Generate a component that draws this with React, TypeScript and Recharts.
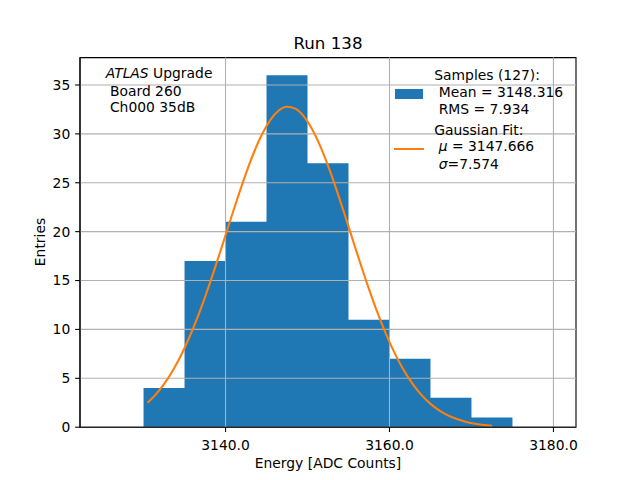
import {
  ComposedChart,
  Area,
  Line,
  XAxis,
  YAxis,
  ReferenceLine,
  ReferenceArea,
  Legend,
} from "recharts";

// histogram: left bin edges + last right edge, one count per bin
const binEdges = [3125, 3130, 3135, 3140, 3145, 3150, 3155, 3160, 3165, 3170, 3175, 3180];
const binCounts = [0, 4, 17, 21, 36, 27, 11, 7, 3, 1, 0];

// gaussian fit curve
const fitX = [
  3130.5, 3131.5, 3132.5, 3133.5, 3134.5, 3135.5, 3136.5, 3137.5, 3138.5, 3139.5,
  3140.5, 3141.5, 3142.5, 3143.5, 3144.5, 3145.5, 3146.5, 3147.5, 3148.5, 3149.5,
  3150.5, 3151.5, 3152.5, 3153.5, 3154.5, 3155.5, 3156.5, 3157.5, 3158.5, 3159.5,
  3160.5, 3161.5, 3162.5, 3163.5, 3164.5, 3165.5, 3166.5, 3167.5, 3168.5, 3169.5,
  3170.5, 3171.5, 3172.5,
];
const fitY = [
  2.51, 3.36, 4.41, 5.7, 7.23, 9.02, 11.05, 13.31, 15.75, 18.32,
  20.94, 23.52, 25.97, 28.17, 30.03, 31.46, 32.39, 32.77, 32.58, 31.84,
  30.57, 28.85, 26.75, 24.38, 21.83, 19.21, 16.61, 14.12, 11.79, 9.68,
  7.81, 6.19, 4.82, 3.69, 2.78, 2.05, 1.49, 1.07, 0.75, 0.51,
  0.35, 0.23, 0.15,
];

const xTicks = [3140, 3160, 3180];
const yTicks = [0, 5, 10, 15, 20, 25, 30, 35];

const title = "Run 138";
const xLabel = "Energy [ADC Counts]";
const yLabel = "Entries";
const sampleLines = ["Samples (127):", " Mean = 3148.316", " RMS = 7.934"];
const fitLines = ["Gaussian Fit:", " \u03bc = 3147.666", " \u03c3=7.574"];
const boardLines = [" Board 260", " Ch000 35dB"];

const BLUE = "#1f77b4";
const ORANGE = "#ff7f0e";
const GRID = "#b0b0b0";
const FONT = "'DejaVu Sans', sans-serif";
const FS = 13.89; // 10pt at 100 dpi
const TICK = 4.86; // 3.5pt
const X_DOMAIN: [number, number] = [3122.25, 3182.75];
const Y_DOMAIN: [number, number] = [0, 37.8];

const histData = binEdges.map((x, i) => ({ x, y: i < binCounts.length ? binCounts[i] : 0 }));
const fitData = fitX.map((x, i) => ({ x, y: fitY[i] }));

// italicise greek letters like matplotlib mathtext
const renderMath = (s: string) =>
  s.split(/([\u03bc\u03c3])/).map((part, i) =>
    /[\u03bc\u03c3]/.test(part) ? <i key={i}>{part}</i> : <span key={i}>{part}</span>
  );

const lineStyle = (left: number, top: number): React.CSSProperties => ({
  position: "absolute",
  left,
  top,
  fontSize: FS,
  lineHeight: "17px",
  whiteSpace: "pre",
  color: "#000",
});

const LegendBox = () => {
  const sampleTops = [67.4, 84.0, 101.0];
  const fitTops = [121.7, 138.4, 156.0];
  return (
    <div style={{ position: "relative", width: 640, height: 480, fontFamily: FONT }}>
      <div style={{ position: "absolute", left: 395, top: 89.3, width: 28, height: 9.7, background: BLUE }} />
      <div style={{ position: "absolute", left: 394, top: 147.7, width: 30, height: 2.1, background: ORANGE }} />
      {sampleLines.map((t, i) => (
        <div key={"s" + i} style={lineStyle(434.3, sampleTops[i])}>
          {t}
        </div>
      ))}
      {fitLines.map((t, i) => (
        <div key={"f" + i} style={lineStyle(434.3, fitTops[i])}>
          {renderMath(t)}
        </div>
      ))}
    </div>
  );
};

export default function App() {
  return (
    <div
      style={{
        position: "absolute",
        left: 0,
        top: 0,
        width: 640,
        height: 480,
        background: "#fff",
        fontFamily: FONT,
      }}
    >
      <ComposedChart
        width={640}
        height={480}
        margin={{ top: 57.6, right: 64, bottom: 0, left: 0 }}
        style={{ fontFamily: FONT }}
      >
        <XAxis
          type="number"
          dataKey="x"
          domain={X_DOMAIN}
          allowDataOverflow
          ticks={xTicks}
          tickFormatter={(v: number) => v.toFixed(1)}
          height={52.8}
          tickSize={TICK}
          tickMargin={7.6}
          tick={{ fontSize: FS, fill: "#000" }}
          tickLine={{ stroke: "#000", strokeWidth: 1.1 }}
          axisLine={{ stroke: "#000", strokeWidth: 1.1 }}
        />
        <YAxis
          type="number"
          domain={Y_DOMAIN}
          allowDataOverflow
          ticks={yTicks}
          width={80}
          tickSize={TICK}
          tickMargin={TICK}
          tick={{ fontSize: FS, fill: "#000" }}
          tickLine={{ stroke: "#000", strokeWidth: 1.1 }}
          axisLine={{ stroke: "#000", strokeWidth: 1.1 }}
        />
        <Area
          data={histData}
          dataKey="y"
          type="stepAfter"
          stroke="none"
          fill={BLUE}
          fillOpacity={1}
          dot={false}
          activeDot={false}
          isAnimationActive={false}
        />
        {/* grid sits above the histogram, as in matplotlib */}
        {xTicks.map((t) => (
          <ReferenceLine key={"gx" + t} x={t} stroke={GRID} strokeWidth={1.1} />
        ))}
        {yTicks.map((t) => (
          <ReferenceLine key={"gy" + t} y={t} stroke={GRID} strokeWidth={1.1} />
        ))}
        <Line
          data={fitData}
          dataKey="y"
          type="monotone"
          stroke={ORANGE}
          strokeWidth={2.1}
          dot={false}
          activeDot={false}
          isAnimationActive={false}
        />
        <ReferenceArea
          x1={X_DOMAIN[0]}
          x2={X_DOMAIN[1]}
          y1={Y_DOMAIN[0]}
          y2={Y_DOMAIN[1]}
          stroke="#000"
          strokeWidth={1.1}
          fill="none"
          fillOpacity={0}
        />
        <Legend
          layout="horizontal"
          verticalAlign="middle"
          align="center"
          content={() => <LegendBox />}
          wrapperStyle={{ position: "absolute", left: 0, top: 0, width: 640, height: 480, margin: 0, pointerEvents: "none" }}
        />
      </ComposedChart>

      {/* title, axis titles and the text block at top left */}
      <div
        style={{
          position: "absolute",
          left: 0,
          top: 33.8,
          width: 656,
          textAlign: "center",
          fontSize: 16.67,
          lineHeight: "20px",
        }}
      >
        {title}
      </div>
      <div
        style={{
          position: "absolute",
          left: 0,
          top: 454.7,
          width: 656,
          textAlign: "center",
          fontSize: FS,
          lineHeight: "17px",
        }}
      >
        {xLabel}
      </div>
      <div
        style={{
          position: "absolute",
          left: 39.5,
          top: 242.4,
          fontSize: FS,
          lineHeight: "17px",
          whiteSpace: "pre",
          transform: "translate(-50%, -50%) rotate(-90deg)",
        }}
      >
        {yLabel}
      </div>
      <div style={lineStyle(105.7, 65.0)}>
        <i>ATLAS</i> Upgrade
      </div>
      {boardLines.map((t, i) => (
        <div key={i} style={lineStyle(105.5, [83.4, 99.4][i])}>
          {t}
        </div>
      ))}
    </div>
  );
}
